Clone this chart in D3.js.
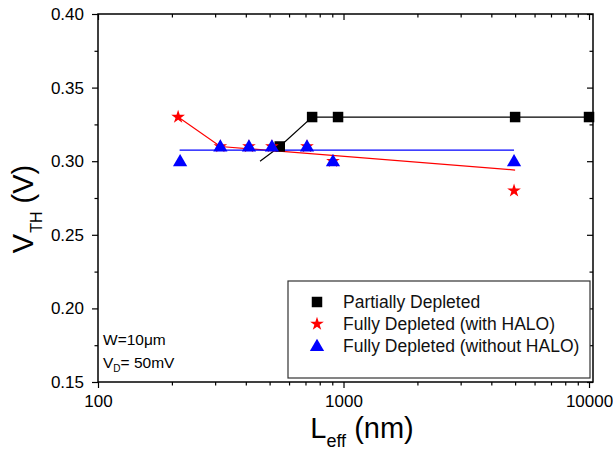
<!DOCTYPE html>
<html>
<head>
<meta charset="utf-8">
<script src="https://cdn.jsdelivr.net/npm/d3@7"></script>
<style>
  html, body { margin: 0; padding: 0; background: #fff; }
  svg { display: block; font-family: "Liberation Sans", Arial, sans-serif; }
</style>
</head>
<body>
<svg id="chart" width="613" height="452"></svg>
<script>
// ---- data ----
const pdL = [550, 745, 950, 5000, 10000];
const pdV = [0.31, 0.33, 0.33, 0.33, 0.33];
const pdLineL = [457, 550, 745, 950, 5000, 10000];
const pdLineV = [0.30, 0.31, 0.33, 0.33, 0.33, 0.33];

const haloL = [212, 315, 412, 511, 710, 906, 4950];
const haloV = [0.33, 0.31, 0.31, 0.31, 0.31, 0.30, 0.28];
const haloLineL = [212, 315, 5000];
const haloLineV = [0.33, 0.31, 0.294];

const noHaloL = [216, 315, 412, 511, 710, 906, 4950];
const noHaloV = [0.30, 0.31, 0.31, 0.31, 0.31, 0.30, 0.30];
const noHaloLineL = [215, 4950];
const noHaloLineV = [0.3075, 0.3075];

const xMajor = [100, 1000, 10000];
const xMinor = [200, 300, 400, 500, 600, 700, 800, 900, 2000, 3000, 4000, 5000, 6000, 7000, 8000, 9000];
const yMajor = [0.15, 0.20, 0.25, 0.30, 0.35, 0.40];
const yMinor = [0.175, 0.225, 0.275, 0.325, 0.375];

const legendLabels = ["Partially Depleted", "Fully Depleted (with HALO)", "Fully Depleted (without HALO)"];

// ---- layout ----
const svg = d3.select("#chart");
const L = 98, R = 593, T = 14, B = 382;
const x = d3.scaleLog().domain([100, 10380]).range([L, R]);
const y = d3.scaleLinear().domain([0.15, 0.40]).range([B, T]);

const zip = (a, b) => a.map((v, i) => [v, b[i]]);
const line = d3.line().x(d => x(d[0])).y(d => y(d[1]));

// ---- axes ----
const axisStyle = g => {
  g.select(".domain").remove();
  g.selectAll("line").attr("stroke", "#000").attr("stroke-width", 1.2);
  g.selectAll("text").attr("font-size", 17).attr("fill", "#000")
    .attr("font-family", "Liberation Sans, Arial, sans-serif");
};
// bottom major
svg.append("g").attr("transform", `translate(0,${B})`)
  .call(d3.axisBottom(x).tickValues(xMajor).tickFormat(d3.format("d")).tickSize(6).tickPadding(7))
  .call(axisStyle);
svg.append("g").attr("transform", `translate(0,${B})`)
  .call(d3.axisBottom(x).tickValues(xMinor).tickFormat("").tickSize(3.5))
  .call(axisStyle);
// top (inward)
svg.append("g").attr("transform", `translate(0,${T})`)
  .call(d3.axisBottom(x).tickValues(xMajor).tickFormat("").tickSize(6))
  .call(axisStyle);
svg.append("g").attr("transform", `translate(0,${T})`)
  .call(d3.axisBottom(x).tickValues(xMinor).tickFormat("").tickSize(3.5))
  .call(axisStyle);
// left
svg.append("g").attr("transform", `translate(${L},0)`)
  .call(d3.axisLeft(y).tickValues(yMajor).tickFormat(d3.format(".2f")).tickSize(6).tickPadding(8))
  .call(axisStyle);
svg.append("g").attr("transform", `translate(${L},0)`)
  .call(d3.axisLeft(y).tickValues(yMinor).tickFormat("").tickSize(3.5))
  .call(axisStyle);
// right (inward)
svg.append("g").attr("transform", `translate(${R},0)`)
  .call(d3.axisLeft(y).tickValues(yMajor).tickFormat("").tickSize(6))
  .call(axisStyle);
svg.append("g").attr("transform", `translate(${R},0)`)
  .call(d3.axisLeft(y).tickValues(yMinor).tickFormat("").tickSize(3.5))
  .call(axisStyle);

// frame
svg.append("rect").attr("x", L).attr("y", T).attr("width", R - L).attr("height", B - T)
  .attr("fill", "none").attr("stroke", "#000").attr("stroke-width", 1.5);

// ---- lines ----
svg.append("path").datum(zip(pdLineL, pdLineV)).attr("d", line)
  .attr("fill", "none").attr("stroke", "#000").attr("stroke-width", 1.2);
svg.append("path").datum(zip(haloLineL, haloLineV)).attr("d", line)
  .attr("fill", "none").attr("stroke", "#ff0000").attr("stroke-width", 1.2);
svg.append("path").datum(zip(noHaloLineL, noHaloLineV)).attr("d", line)
  .attr("fill", "none").attr("stroke", "#0000ff").attr("stroke-width", 1.2);

// ---- markers ----
const sq = d3.symbol().type(d3.symbolSquare).size(110);
const star = d3.symbol().type(d3.symbolStar).size(58);
const tri = d3.symbol().type(d3.symbolTriangle).size(88);

svg.append("g").selectAll("path").data(zip(pdL, pdV)).join("path")
  .attr("d", sq).attr("transform", d => `translate(${x(d[0])},${y(d[1])})`).attr("fill", "#000");
svg.append("g").selectAll("path").data(zip(haloL, haloV)).join("path")
  .attr("d", star).attr("transform", d => `translate(${x(d[0])},${y(d[1])})`).attr("fill", "#ff0000");
svg.append("g").selectAll("path").data(zip(noHaloL, noHaloV)).join("path")
  .attr("d", tri).attr("transform", d => `translate(${x(d[0])},${y(d[1]) + 1})`).attr("fill", "#0000ff");

// ---- legend ----
const lg = svg.append("g");
lg.append("rect").attr("x", 288).attr("y", 281).attr("width", 302).attr("height", 97)
  .attr("fill", "#fff").attr("stroke", "#333").attr("stroke-width", 1.2);
const syms = [sq, star, tri];
const cols = ["#000", "#ff0000", "#0000ff"];
legendLabels.forEach((t, i) => {
  const cy = 302 + i * 22;
  lg.append("path").attr("d", syms[i]).attr("transform", `translate(317,${cy + (i === 2 ? 1 : 0)})`).attr("fill", cols[i]);
  lg.append("text").attr("x", 343).attr("y", cy + 6).attr("font-size", 17.5).attr("fill", "#111").text(t);
});

// ---- annotation ----
const ann = svg.append("g").attr("font-size", 15.5).attr("fill", "#000");
ann.append("text").attr("x", 103).attr("y", 345).text("W=10\u03bcm");
const vd = ann.append("text").attr("x", 103).attr("y", 368);
vd.append("tspan").text("V");
vd.append("tspan").attr("font-size", 10).attr("dy", 4).text("D");
vd.append("tspan").attr("dy", -4).text("= 50mV");

// ---- axis titles ----
const xt = svg.append("text").attr("x", 362).attr("y", 438).attr("text-anchor", "middle")
  .attr("font-size", 29).attr("fill", "#000");
xt.append("tspan").text("L");
xt.append("tspan").attr("font-size", 18).attr("dy", 9).text("eff");
xt.append("tspan").attr("dy", -9).text(" (nm)");

const yt = svg.append("text").attr("transform", "translate(33,209) rotate(-90)")
  .attr("text-anchor", "middle").attr("font-size", 29).attr("fill", "#000");
yt.append("tspan").text("V");
yt.append("tspan").attr("font-size", 16).attr("dy", 9).attr("dx", 1).text("TH");
yt.append("tspan").attr("dy", -9).text(" (V)");
</script>
</body>
</html>
